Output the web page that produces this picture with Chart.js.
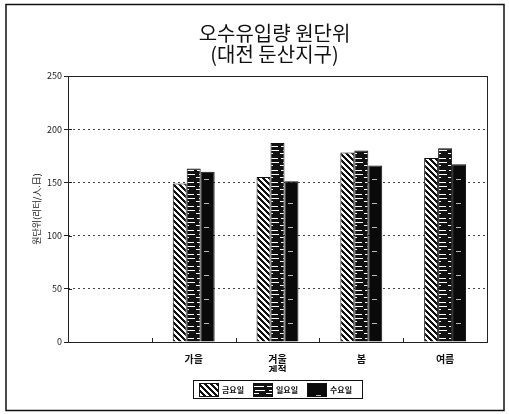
<!DOCTYPE html>
<html>
<head>
<meta charset="utf-8">
<script src="https://cdn.jsdelivr.net/npm/chart.js@4.4.1/dist/chart.umd.min.js"></script>
<style>
  html, body { margin: 0; padding: 0; background: #fff; }
  #wrap { width: 509px; height: 414px; }
</style>
</head>
<body>
<div id="wrap"><canvas id="chart" width="509" height="414"></canvas></div>
<script>
// chart data
const titleLines = ['오수유입량 원단위', '(대전 둔산지구)'];
const yAxisTitle = '원단위(리터/人.日)';
const categories = ['', '가을', ['겨울', '계절'], '봄', '여름'];
const seriesNames = ['금요일', '일요일', '수요일'];
const friday = [null, 149, 155, 178, 173];
const sunday = [null, 163, 187, 180, 182];
const wednesday = [null, 160, 151, 166, 167];
const yTicks = [0, 50, 100, 150, 200, 250];

const FONT = '"Noto Sans CJK KR", "Noto Sans", sans-serif';

// fill patterns for the black & white bars
function makePattern(w, h, draw) {
  const c = document.createElement('canvas');
  c.width = w; c.height = h;
  const g = c.getContext('2d');
  draw(g);
  return g.createPattern(c, 'repeat');
}

const hatch = makePattern(6, 6, function (g) {
  g.fillStyle = '#fff';
  g.fillRect(0, 0, 6, 6);
  g.fillStyle = '#111';
  for (let y = 0; y < 6; y++) {
    for (let x = 0; x < 6; x++) {
      const d = ((x - y) % 6 + 6) % 6;
      if (d < 3) g.fillRect(x, y, 1, 1);
    }
  }
});

const stripes = makePattern(14, 12, function (g) {
  g.fillStyle = '#111';
  g.fillRect(0, 0, 14, 12);
  g.fillStyle = '#fff';
  g.fillRect(1, 2, 11, 1);
  g.fillRect(3, 6, 10, 1);
  g.fillRect(0, 9, 7, 1);
});

const solid = makePattern(14, 24, function (g) {
  g.fillStyle = '#0a0a0a';
  g.fillRect(0, 0, 14, 24);
  g.fillStyle = '#bbb';
  g.fillRect(8, 11, 5, 1);
});

const decorations = {
  id: 'decorations',
  afterDraw: function (chart) {
    const ctx = chart.ctx;
    const a = chart.chartArea;
    const x = chart.scales.x;
    ctx.save();

    // outer frame
    ctx.strokeStyle = '#111';
    ctx.lineWidth = 1.5;
    ctx.strokeRect(6, 4.5, 498, 406);

    // plot box
    ctx.lineWidth = 1;
    ctx.strokeStyle = '#222';
    ctx.strokeRect(Math.round(a.left) + 0.5, Math.round(a.top) + 0.5,
      Math.round(a.right - a.left), Math.round(a.bottom - a.top));

    // inward y ticks
    const y = chart.scales.y;
    yTicks.forEach(function (v) {
      const py = Math.round(y.getPixelForValue(v)) + 0.5;
      ctx.beginPath();
      ctx.moveTo(a.left, py);
      ctx.lineTo(a.left + 4, py);
      ctx.stroke();
    });

    // small x ticks at category boundaries
    const step = (a.right - a.left) / categories.length;
    for (let i = 1; i < categories.length; i++) {
      const px = Math.round(x.getPixelForValue(i) - step / 2) + 0.5;
      ctx.beginPath();
      ctx.moveTo(px, a.bottom);
      ctx.lineTo(px, a.bottom - 4);
      ctx.stroke();
    }

    // title
    const cx = (a.left + a.right) / 2 - 3;
    ctx.fillStyle = '#111';
    ctx.textAlign = 'center';
    ctx.textBaseline = 'middle';
    ctx.font = '20px ' + FONT;
    ctx.fillText(titleLines[0], cx, 33);
    ctx.fillText(titleLines[1], cx, 54);

    // y axis title
    ctx.save();
    ctx.translate(37, (a.top + a.bottom) / 2);
    ctx.rotate(-Math.PI / 2);
    ctx.font = '9px ' + FONT;
    ctx.fillStyle = '#222';
    ctx.fillText(yAxisTitle, 0, 0);
    ctx.restore();

    // legend
    const lx = 193, ly = 380, lw = 169, lh = 18;
    ctx.fillStyle = '#fff';
    ctx.fillRect(lx, ly, lw, lh);
    ctx.strokeStyle = '#111';
    ctx.lineWidth = 1;
    ctx.strokeRect(lx + 0.5, ly + 0.5, lw, lh);
    ctx.font = 'bold 8px ' + FONT;
    ctx.textAlign = 'left';
    chart.data.datasets.forEach(function (ds, i) {
      const sx = lx + 6 + i * 54;
      ctx.fillStyle = ds.backgroundColor;
      ctx.fillRect(sx, ly + 3, 19, 13);
      ctx.strokeRect(sx + 0.5, ly + 3.5, 19, 13);
      ctx.fillStyle = '#111';
      ctx.fillText(ds.label, sx + 23, ly + 10);
    });

    ctx.restore();
  }
};

new Chart(document.getElementById('chart'), {
  type: 'bar',
  data: {
    labels: categories,
    datasets: [
      { label: seriesNames[0], data: friday, backgroundColor: hatch },
      { label: seriesNames[1], data: sunday, backgroundColor: stripes },
      { label: seriesNames[2], data: wednesday, backgroundColor: solid }
    ].map(function (ds) {
      return Object.assign(ds, {
        borderColor: '#111',
        borderWidth: 1,
        categoryPercentage: 0.5,
        barPercentage: 1.0
      });
    })
  },
  options: {
    responsive: false,
    animation: false,
    layout: { padding: { left: 10, right: 22, top: 76, bottom: 42 } },
    plugins: {
      legend: { display: false },
      title: { display: false },
      tooltip: { enabled: false }
    },
    scales: {
      x: {
        grid: { display: false },
        border: { display: false },
        ticks: {
          color: '#111',
          padding: 4,
          font: { family: FONT, size: 10, weight: 'bold', lineHeight: 1.05 },
          maxRotation: 0
        },
        afterFit: function (s) { s.height = 30; }
      },
      y: {
        min: 0,
        max: 250,
        afterBuildTicks: function (s) { s.ticks = yTicks.map(function (v) { return { value: v }; }); },
        grid: {
          color: function (c) {
            return (c.tick && (c.tick.value === 0 || c.tick.value === 250)) ? 'rgba(0,0,0,0)' : '#444';
          },
          tickColor: '#222',
          tickLength: 4,
          lineWidth: 1
        },
        border: { display: false, dash: [2, 3] },
        ticks: {
          color: '#222',
          padding: 2,
          font: { family: FONT, size: 9 }
        },
        afterFit: function (s) { s.width = 58; }
      }
    }
  },
  plugins: [decorations]
});
</script>
</body>
</html>
